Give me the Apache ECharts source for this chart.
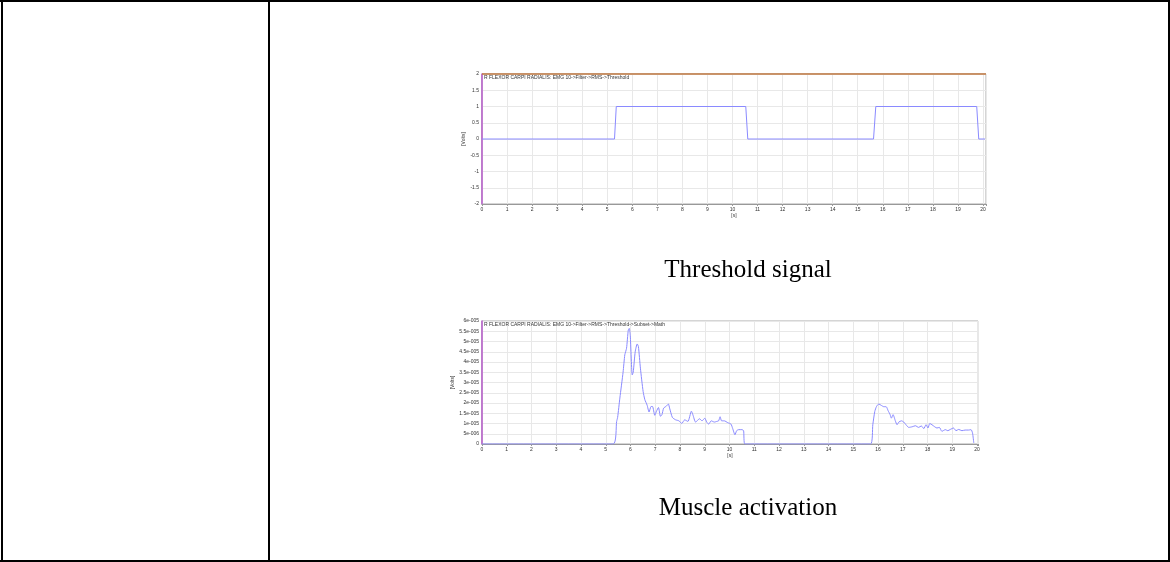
<!DOCTYPE html>
<html>
<head>
  <meta charset="utf-8">
  <style>
    html,body {
      margin: 0;
      padding: 0;
      width: 100%;
      height: 100%;
      overflow: hidden;
      background: #fff;
    }
  </style>
  <script src="https://cdn.jsdelivr.net/npm/echarts@6/dist/echarts.min.js"></script>
</head>
<body>
  <div id="container" style="width:1170px;height:562px;"></div>
  <script type="text/javascript">
    // threshold signal: [time s, volts]
    var thresholdTime = [0, 5.29, 5.36, 10.53, 10.61, 15.63, 15.72, 19.75, 19.83, 20.08];
    var thresholdVolts = [0, 0, 1, 1, 0, 0, 1, 1, 0, 0];

    // muscle activation: [time s, volts]
    var activationTime = [
      0, 5.30, 5.44, 5.48, 5.57, 5.70, 5.77, 5.84, 5.91, 5.95, 5.99, 6.07, 6.11, 6.19, 6.27, 6.32,
      6.40, 6.51, 6.58, 6.67, 6.75, 6.83, 6.89, 6.98, 7.05, 7.13, 7.21, 7.27, 7.34, 7.45, 7.53,
      7.58, 7.69, 7.82, 7.96, 8.07, 8.19, 8.32, 8.46, 8.52, 8.63, 8.79, 8.89, 9.00, 9.08, 9.16,
      9.26, 9.39, 9.48, 9.56, 9.62, 9.68, 9.79, 9.93, 10.06, 10.13, 10.22, 10.29, 10.37, 10.50,
      10.57, 10.62, 15.70, 15.79, 15.87, 15.94, 16.03, 16.14, 16.23, 16.33, 16.41, 16.49, 16.54,
      16.61, 16.70, 16.77, 16.84, 16.95, 17.04, 17.13, 17.24, 17.38, 17.51, 17.64, 17.75, 17.85,
      17.94, 18.02, 18.09, 18.18, 18.29, 18.38, 18.48, 18.58, 18.72, 18.82, 18.92, 19.05, 19.15,
      19.26, 19.39, 19.52, 19.66, 19.76, 19.82, 19.87
    ];
    // values in units of 1e-5 V
    var activationVal = [
      0, 0, 1.1, 1.3, 2.24, 3.5, 4.35, 4.67, 5.56, 5.64, 5.3, 3.37, 3.5, 4.5, 4.88, 4.75,
      3.7, 2.56, 2.16, 1.9, 1.56, 1.83, 1.83, 1.4, 1.6, 1.78, 1.35, 1.43, 1.75, 1.85, 1.95,
      1.75, 1.3, 1.18, 1.13, 1.0, 1.18, 1.1, 1.6, 1.43, 1.07, 1.23, 1.13, 1.26, 1.07, 0.97,
      1.13, 1.07, 1.1, 1.13, 1.33, 1.13, 1.13, 1.04, 0.97, 0.75, 0.45, 0.65, 0.7, 0.7,
      0.65, 0, 0, 0.94, 1.59, 1.83, 1.95, 1.88, 1.82, 1.82, 1.62, 1.43, 1.26,
      1.43, 1.13, 0.94, 1.07, 1.13, 1.07, 0.94, 0.81, 0.84, 0.89, 0.81, 0.88, 0.75,
      0.94, 0.78, 1.0, 0.94, 0.84, 0.78, 0.81, 0.62, 0.7, 0.65, 0.71, 0.78, 0.65,
      0.71, 0.65, 0.68, 0.68, 0.7, 0.53, 0.05
    ];

    var title1 = 'R FLEXOR CARPI RADIALIS: EMG 10->Filter->RMS->Threshold';
    var title2 = 'R FLEXOR CARPI RADIALIS: EMG 10->Filter->RMS->Threshold->Subset->Math';
    var caption1 = 'Threshold signal';
    var caption2 = 'Muscle activation';

    var thresholdData = thresholdTime.map(function (t, i) { return [t, thresholdVolts[i]]; });
    var activationData = activationTime.map(function (t, i) { return [t, activationVal[i] * 1e-5]; });

    function sciLabel(v) {
      if (v === 0) return '0';
      var s = parseFloat(v.toPrecision(3)).toExponential();
      return s.replace(/e([+-])(\d+)$/, function (m, sign, d) {
        while (d.length < 3) d = '0' + d;
        return 'e' + sign + d;
      });
    }

    var smallFont = { fontSize: 5, color: '#333', fontFamily: 'Liberation Sans' };
    var gridLine = { show: true, lineStyle: { color: '#e8e8e8', width: 1 } };
    var captionFont = { fontFamily: 'Liberation Serif', fontSize: 25, fill: '#000' };

    function xAxisFor(gridIndex, max) {
      return {
        type: 'value', gridIndex: gridIndex, min: 0, max: max, interval: 1,
        name: '[s]', nameLocation: 'middle', nameGap: 9,
        nameTextStyle: smallFont,
        axisLine: { show: true, onZero: false, lineStyle: { color: '#999' } },
        axisTick: { show: true, length: 2, lineStyle: { color: '#999' } },
        axisLabel: Object.assign({ margin: 3, formatter: function (v) {
          return Math.abs(v - Math.round(v)) < 1e-9 ? String(Math.round(v)) : '';
        } }, smallFont),
        splitLine: gridLine
      };
    }

    var dom = document.getElementById('container');
    var myChart = echarts.init(dom, null, { renderer: 'canvas' });

    var option = {
      animation: false,
      backgroundColor: '#fff',
      title: [
        { text: title1, left: 484, top: 75, padding: 0, textStyle: Object.assign({ fontWeight: 'normal' }, smallFont) },
        { text: title2, left: 484, top: 322, padding: 0, textStyle: Object.assign({ fontWeight: 'normal' }, smallFont) }
      ],
      graphic: [
        { type: 'rect', shape: { x: 0, y: 0, width: 1170, height: 2 }, style: { fill: '#000' } },
        { type: 'rect', shape: { x: 1, y: 0, width: 2, height: 562 }, style: { fill: '#000' } },
        { type: 'rect', shape: { x: 268, y: 0, width: 2, height: 562 }, style: { fill: '#000' } },
        { type: 'rect', shape: { x: 1168, y: 0, width: 2, height: 562 }, style: { fill: '#000' } },
        { type: 'rect', shape: { x: 0, y: 560, width: 1170, height: 2 }, style: { fill: '#000' } },
        { type: 'text', x: 748, y: 270, style: Object.assign({ text: caption1, align: 'center', verticalAlign: 'middle' }, captionFont) },
        { type: 'text', x: 748, y: 508, style: Object.assign({ text: caption2, align: 'center', verticalAlign: 'middle' }, captionFont) }
      ],
      grid: [
        { left: 482, top: 74, width: 504, height: 130, show: true, borderColor: '#aaa', borderWidth: 1 },
        { left: 482, top: 321, width: 496, height: 123, show: true, borderColor: '#aaa', borderWidth: 1 }
      ],
      xAxis: [xAxisFor(0, 20.12), xAxisFor(1, 20.04)],
      yAxis: [
        {
          type: 'value', gridIndex: 0, min: -2, max: 2, interval: 0.5,
          name: '[Volts]', nameLocation: 'middle', nameGap: 15, nameTextStyle: smallFont,
          axisLine: { show: true, lineStyle: { color: '#b45ac8', width: 1.5 } },
          axisTick: { show: false },
          axisLabel: Object.assign({ margin: 3 }, smallFont),
          splitLine: gridLine
        },
        {
          type: 'value', gridIndex: 1, min: 0, max: 6e-5, interval: 5e-6,
          name: '[Volts]', nameLocation: 'middle', nameGap: 19, nameTextStyle: smallFont,
          axisLine: { show: true, lineStyle: { color: '#b45ac8', width: 1.5 } },
          axisTick: { show: false },
          axisLabel: Object.assign({ margin: 3, formatter: sciLabel }, smallFont),
          splitLine: gridLine
        }
      ],
      series: [
        {
          type: 'line', xAxisIndex: 0, yAxisIndex: 0, data: thresholdData,
          showSymbol: false, lineStyle: { color: '#8a8aff', width: 1 },
          markLine: {
            silent: true, symbol: 'none', label: { show: false },
            lineStyle: { color: '#c07840', type: 'solid', width: 1.5 },
            data: [{ yAxis: 2 }]
          }
        },
        {
          type: 'line', xAxisIndex: 1, yAxisIndex: 1, data: activationData,
          showSymbol: false, smooth: 0.2, lineStyle: { color: '#8a8aff', width: 1 }
        }
      ]
    };

    myChart.setOption(option);
  </script>
</body>
</html>
